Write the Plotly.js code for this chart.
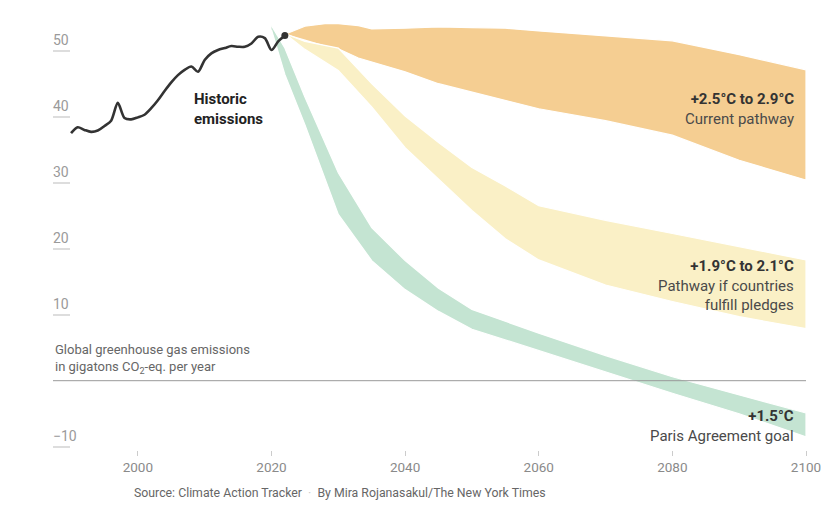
<!DOCTYPE html>
<html>
<head>
<meta charset="utf-8">
<script src="https://cdn.plot.ly/plotly-3.0.1.min.js"></script>
<style>html,body{margin:0;padding:0;background:#fff;}#chart{width:836px;height:518px;}</style>
</head>
<body>
<div id="chart"></div>
<script>
// Historic emissions (Gt CO2-eq per year)
const histYears = [1990,1991,1992,1993,1994,1995,1996,1997,1998,1999,2000,2001,2002,2003,2004,2005,2006,2007,2008,2009,2010,2011,2012,2013,2014,2015,2016,2017,2018,2019,2020,2021,2022];
const histValues = [37.5,38.4,38.0,37.7,37.9,38.6,39.4,42.1,39.8,39.6,39.9,40.3,41.3,42.5,43.9,45.2,46.3,47.1,47.6,46.8,48.6,49.6,50.1,50.4,50.7,50.6,50.6,51.1,52.1,51.9,50.1,51.4,52.3];

// Current pathway (+2.5°C to 2.9°C)
const currentYears = [2022.3,2025,2028,2030,2033,2035,2040,2045,2050,2055,2060,2070,2080,2090,2100];
const currentUpper = [52.6,53.7,54.1,54.1,53.8,53.3,53.4,53.6,53.5,53.4,53.0,52.3,51.5,49.4,47.1];
const currentLower = [52.4,51.6,50.7,50.3,48.9,48.3,46.8,45.0,43.8,42.5,41.2,39.4,37.2,33.4,30.4];

// Pledges pathway (+1.9°C to 2.1°C)
const pledgeYears = [2022.5,2025,2030,2035,2040,2045,2050,2055,2060,2070,2080,2090,2100];
const pledgeUpper = [52.4,51.4,50.4,45.0,40.1,36.1,32.3,29.5,26.5,24.3,22.3,20.3,18.3];
const pledgeLower = [52.2,50.2,47.0,41.5,35.3,30.5,25.8,21.5,18.3,14.5,12.0,9.7,7.9];

// Paris Agreement goal (+1.5°C)
const parisYears = [2020,2022,2025,2030,2035,2040,2045,2050,2060,2070,2080,2090,2100];
const parisUpper = [53.8,50.4,43.0,31.5,23.2,18.2,14.0,10.8,7.2,3.8,0.6,-2.2,-4.9];
const parisLower = [53.2,46.4,38.8,25.2,18.2,13.8,10.5,7.8,4.6,1.3,-1.9,-5.0,-8.5];

const yTicks = [-10,10,20,30,40,50];
const yTickText = ['\u221210','10','20','30','40','50'];
const xTicks = [2000,2020,2040,2060,2080,2100];

function band(years, upper, lower, color) {
  return {
    x: years.concat(years.slice().reverse()),
    y: upper.concat(lower.slice().reverse()),
    type: 'scatter', mode: 'lines', fill: 'toself', fillcolor: color,
    line: {color: '#ffffff', width: 1.2}, hoverinfo: 'skip', showlegend: false
  };
}

const FONT = 'Roboto, "Liberation Sans", sans-serif';

const data = [
  band(currentYears, currentUpper, currentLower, 'rgb(245,206,146)'),
  band(pledgeYears, pledgeUpper, pledgeLower, 'rgb(250,240,198)'),
  band(parisYears, parisUpper, parisLower, 'rgb(196,228,210)'),
  {x: histYears, y: histValues, type: 'scatter', mode: 'lines',
   line: {color: '#333333', width: 2.6, shape: 'spline', smoothing: 0.8}, showlegend: false},
  {x: [histYears[histYears.length-1]], y: [histValues[histValues.length-1]], type: 'scatter', mode: 'markers',
   marker: {color: '#333333', size: 7}, showlegend: false}
];

const layout = {
  width: 836, height: 518,
  margin: {l: 53, r: 30, t: 14, b: 68},
  paper_bgcolor: '#ffffff', plot_bgcolor: '#ffffff',
  font: {family: FONT, color: '#888'},
  showlegend: false,
  xaxis: {
    range: [1987.3, 2100], tickvals: xTicks, ticks: 'outside', ticklen: 5, tickwidth: 1, tickcolor: '#cccccc',
    showgrid: false, zeroline: false, showline: false,
    tickfont: {family: FONT, size: 13.5, color: '#8a8a8a'}
  },
  yaxis: {
    range: [-10.5, 55.56], tickvals: yTicks, ticktext: yTickText,
    ticks: 'inside', ticklen: 17, tickwidth: 2, tickcolor: '#dddddd',
    ticklabelposition: 'inside top', ticklabelstandoff: -3,
    showgrid: false, showline: false, zeroline: false,
    tickfont: {family: FONT, size: 14, color: '#9a9a9a'}
  },
  shapes: [
    {type: 'line', xref: 'paper', yref: 'y', x0: 0, x1: 1, y0: 0, y1: 0, layer: 'above',
     line: {color: '#999999', width: 1}}
  ],
  annotations: [
    {x: 2008.1, y: 41.1, xref: 'x', yref: 'y', xanchor: 'left', yanchor: 'middle', align: 'left', showarrow: false,
     text: '<b>Historic<br>emissions</b>', font: {family: FONT, size: 15, color: '#222222'}},
    {x: 2098.5, y: 41.2, xref: 'x', yref: 'y', xanchor: 'right', yanchor: 'middle', align: 'right', showarrow: false,
     text: '<b style="color:#333">+2.5°C to 2.9°C</b><br>Current pathway', font: {family: FONT, size: 15, color: '#4a4a4a'}},
    {x: 2098.5, y: 14.5, xref: 'x', yref: 'y', xanchor: 'right', yanchor: 'middle', align: 'right', showarrow: false,
     text: '<b style="color:#333">+1.9°C to 2.1°C</b><br>Pathway if countries<br>fulfill pledges', font: {family: FONT, size: 15, color: '#4a4a4a'}},
    {x: 2098.5, y: -6.86, xref: 'x', yref: 'y', xanchor: 'right', yanchor: 'middle', align: 'right', showarrow: false,
     text: '<b style="color:#333">+1.5°C</b><br>Paris Agreement goal', font: {family: FONT, size: 15, color: '#4a4a4a'}},
    {x: 0, y: 3.3, xref: 'paper', yref: 'y', xanchor: 'left', yanchor: 'middle', align: 'left', showarrow: false,
     text: 'Global greenhouse gas emissions<br>in gigatons CO<sub>2</sub>-eq. per year', font: {family: FONT, size: 13, color: '#666666'}},
    {x: 0.105, y: -0.098, xref: 'paper', yref: 'paper', xanchor: 'left', yanchor: 'middle', showarrow: false,
     text: 'Source: Climate Action Tracker  <span style="color:#cccccc">·</span>  By Mira Rojanasakul/The New York Times',
     font: {family: FONT, size: 12.3, color: '#666666'}}
  ]
};

Plotly.newPlot('chart', data, layout, {displayModeBar: false, staticPlot: true});
</script>
</body>
</html>
